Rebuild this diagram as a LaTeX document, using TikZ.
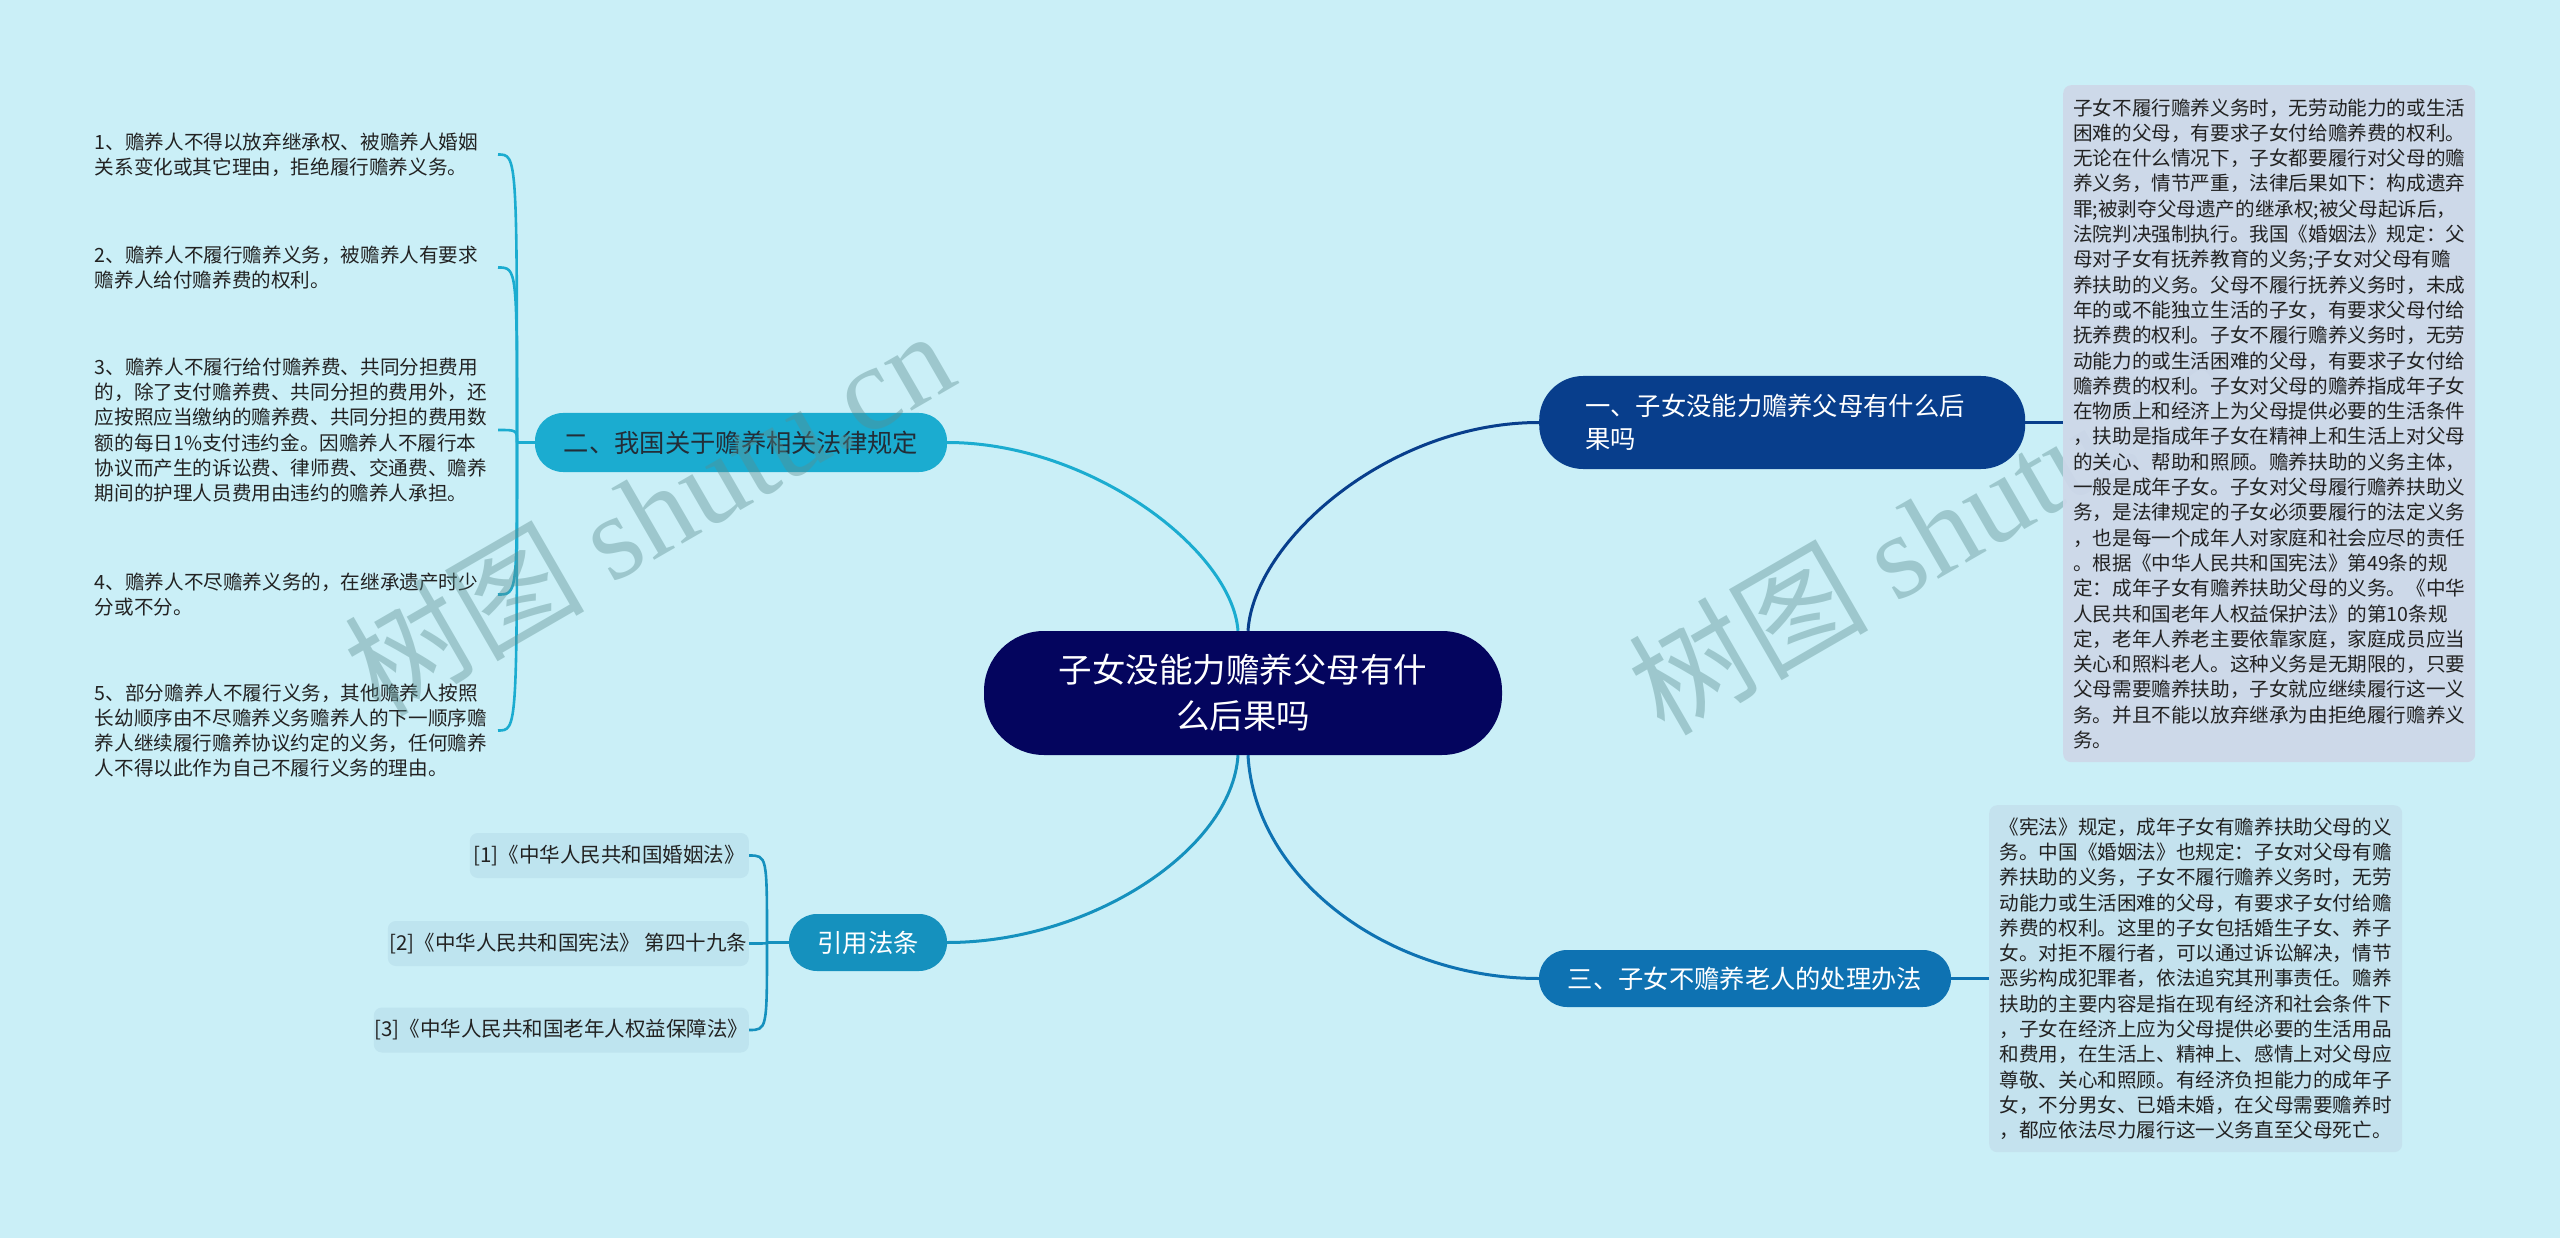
\documentclass[tikz,border=0pt]{standalone}
\usepackage{fontspec}
\setmainfont{Noto Sans CJK SC}
\newfontfamily\wmlatin{Liberation Serif}
\usetikzlibrary{calc}
\definecolor{bgc}{RGB}{202,239,247}
\definecolor{navy}{RGB}{4,5,94}
\definecolor{bone}{RGB}{8,62,140}
\definecolor{btwo}{RGB}{27,172,208}
\definecolor{bthree}{RGB}{14,114,178}
\definecolor{bcite}{RGB}{21,145,190}
\definecolor{boxone}{RGB}{206,216,233}
\definecolor{boxthree}{RGB}{196,226,238}
\definecolor{citebox}{RGB}{190,228,239}
\definecolor{txt}{RGB}{34,34,34}
\definecolor{txttwo}{RGB}{35,45,55}
\definecolor{wmc}{RGB}{90,141,142}
\pgfdeclarelayer{bglayer}
\pgfdeclarelayer{lines}
\pgfdeclarelayer{wmlayer}
\pgfdeclarelayer{toplayer}
\pgfsetlayers{bglayer,lines,main,wmlayer,toplayer}
\begin{document}
\begin{tikzpicture}[x=1pt,y=-1pt,
  conn/.style={line width=3pt},
  sub/.style={line width=2.6pt},
  smallfont/.style={font=\fontsize{19.6}{25.3}\selectfont, text=txt},
  branchnode/.style={rounded corners=28pt, minimum height=58pt, inner sep=0pt, font=\fontsize{25.3}{33}\selectfont},
  citestyle/.style={fill=citebox, rounded corners=8pt, minimum height=45pt, inner sep=0pt, font=\fontsize{20.5}{25}\selectfont, text=txt, anchor=east},
  itemtext/.style={smallfont, anchor=east, text width=403pt, inner sep=0pt, align=left},
  textbox/.style={rounded corners=8pt, inner sep=0pt, anchor=north west, align=left, font=\fontsize{19.6}{25.3}\selectfont, text=txt, fill opacity=0.93, text opacity=1},
  wmark/.style={rotate=30, text=wmc, opacity=0.4, font=\fontsize{120}{120}\selectfont, inner sep=0pt}
]
\begin{pgfonlayer}{bglayer}
\path[fill=bgc] (0,0) rectangle (2560,1238);
\end{pgfonlayer}

% central topic
\node[fill=navy, rounded corners=60pt, minimum width=518pt, minimum height=124pt, inner sep=0pt, align=center, text=white, font=\fontsize{33.5}{46}\selectfont] (c) at (1243,693) {子女没能力赡养父母有什\\么后果吗};

% main branches
\node[branchnode, fill=bone, rounded corners=44pt, minimum width=486pt, minimum height=93pt, text width=394pt, align=left, text=white, anchor=west] (n1) at (1539,422.5) {一、子女没能力赡养父母有什么后\\果吗};
\node[branchnode, fill=btwo, minimum width=412pt, minimum height=59pt, text=txttwo] (n2) at (741,442.5) {二、我国关于赡养相关法律规定};
\node[branchnode, fill=bthree, minimum width=412pt, minimum height=57pt, text=white] (n3) at (1745,978.5) {三、子女不赡养老人的处理办法};
\node[branchnode, fill=bcite, minimum width=158pt, minimum height=57pt, text=white] (n4) at (868,942.5) {引用法条};

% citations
\node[citestyle, minimum width=279pt] (r1) at (749,855.5) {[1]《中华人民共和国婚姻法》};
\node[citestyle, minimum width=361pt] (r2) at (749,943.5) {[2]《中华人民共和国宪法》 第四十九条};
\node[citestyle, minimum width=375pt] (r3) at (749,1030) {[3]《中华人民共和国老年人权益保障法》};

% left items
\node[itemtext] (l1) at (498,154.5) {1、赡养人不得以放弃继承权、被赡养人婚姻\\关系变化或其它理由，拒绝履行赡养义务。};
\node[itemtext] (l2) at (498,267.5) {2、赡养人不履行赡养义务，被赡养人有要求\\赡养人给付赡养费的权利。};
\node[itemtext] (l3) at (498,430) {3、赡养人不履行给付赡养费、共同分担费用\\的，除了支付赡养费、共同分担的费用外，还\\应按照应当缴纳的赡养费、共同分担的费用数\\额的每日1\%支付违约金。因赡养人不履行本\\协议而产生的诉讼费、律师费、交通费、赡养\\期间的护理人员费用由违约的赡养人承担。};
\node[itemtext] (l4) at (498,594.5) {4、赡养人不尽赡养义务的，在继承遗产时少\\分或不分。};
\node[itemtext] (l5) at (498,730.5) {5、部分赡养人不履行义务，其他赡养人按照\\长幼顺序由不尽赡养义务赡养人的下一顺序赡\\养人继续履行赡养协议约定的义务，任何赡养\\人不得以此作为自己不履行义务的理由。};

% right text boxes
\begin{pgfonlayer}{toplayer}
\node[textbox, fill=boxone, minimum width=412pt, minimum height=677pt] (b1) at (2063,85) {子女不履行赡养义务时，无劳动能力的或生活\\困难的父母，有要求子女付给赡养费的权利。\\无论在什么情况下，子女都要履行对父母的赡\\养义务，情节严重，法律后果如下：构成遗弃\\罪;被剥夺父母遗产的继承权;被父母起诉后，\\法院判决强制执行。我国《婚姻法》规定：父\\母对子女有抚养教育的义务;子女对父母有赡\\养扶助的义务。父母不履行抚养义务时，未成\\年的或不能独立生活的子女，有要求父母付给\\抚养费的权利。子女不履行赡养义务时，无劳\\动能力的或生活困难的父母，有要求子女付给\\赡养费的权利。子女对父母的赡养指成年子女\\在物质上和经济上为父母提供必要的生活条件\\，扶助是指成年子女在精神上和生活上对父母\\的关心、帮助和照顾。赡养扶助的义务主体，\\一般是成年子女。子女对父母履行赡养扶助义\\务，是法律规定的子女必须要履行的法定义务\\，也是每一个成年人对家庭和社会应尽的责任\\。根据《中华人民共和国宪法》第49条的规\\定：成年子女有赡养扶助父母的义务。《中华\\人民共和国老年人权益保护法》的第10条规\\定，老年人养老主要依靠家庭，家庭成员应当\\关心和照料老人。这种义务是无期限的，只要\\父母需要赡养扶助，子女就应继续履行这一义\\务。并且不能以放弃继承为由拒绝履行赡养义\\务。};
\node[textbox, fill=boxthree, minimum width=413pt, minimum height=347pt] (b3) at (1989,805) {《宪法》规定，成年子女有赡养扶助父母的义\\务。中国《婚姻法》也规定：子女对父母有赡\\养扶助的义务，子女不履行赡养义务时，无劳\\动能力或生活困难的父母，有要求子女付给赡\\养费的权利。这里的子女包括婚生子女、养子\\女。对拒不履行者，可以通过诉讼解决，情节\\恶劣构成犯罪者，依法追究其刑事责任。赡养\\扶助的主要内容是指在现有经济和社会条件下\\，子女在经济上应为父母提供必要的生活用品\\和费用，在生活上、精神上、感情上对父母应\\尊敬、关心和照顾。有经济负担能力的成年子\\女，不分男女、已婚未婚，在父母需要赡养时\\，都应依法尽力履行这一义务直至父母死亡。};
\end{pgfonlayer}

% watermarks
\begin{pgfonlayer}{wmlayer}
\node[wmark] (w1) at (648,511) {树图 {\wmlatin shutu.cn}};
\node[wmark] (w2) at (1932,530) {树图 {\wmlatin shutu.cn}};
\end{pgfonlayer}

% connectors
\begin{pgfonlayer}{lines}
\draw[btwo, conn] ([xshift=-5pt]c.north) .. controls (1232,550) and (1090,442.5) .. (n2.east);
\draw[bone, conn] ([xshift=5pt]c.north) .. controls (1254,540) and (1390,422.5) .. (n1.west);
\draw[bcite, conn] ([xshift=-5pt]c.south) .. controls (1232,850) and (1090,942.5) .. (n4.east);
\draw[bthree, conn] ([xshift=5pt]c.south) .. controls (1255,880) and (1390,978.5) .. (n3.west);

\draw[bone, sub] (n1.east) -- (n1.east -| b1.west);
\draw[bthree, sub] (n3.east) -- (n3.east -| b3.west);

\coordinate (jl) at (517,442.5);
\draw[btwo, sub] (n2.west) -- (jl);
\foreach \i in {l1,l2,l3,l4,l5}
  \draw[btwo, sub] (jl) .. controls (jl |- \i.east) and (jl |- \i.east) .. (\i.east);

\coordinate (jc) at (767,942.5);
\draw[bcite, sub] (n4.west) -- (jc);
\foreach \i in {r1,r2,r3}
  \draw[bcite, sub] (jc) .. controls (jc |- \i.east) and (jc |- \i.east) .. (\i.east);
\end{pgfonlayer}
\end{tikzpicture}
\end{document}
